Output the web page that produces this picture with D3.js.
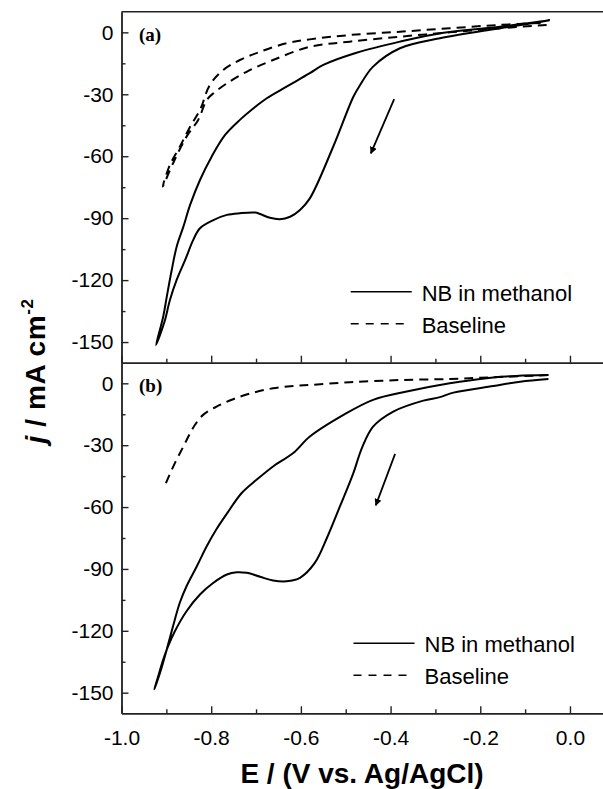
<!DOCTYPE html>
<html>
<head>
<meta charset="utf-8">
<script src="https://cdn.jsdelivr.net/npm/d3@7/dist/d3.min.js"></script>
<style>
  html, body { margin: 0; padding: 0; background: #fff; }
  svg { display: block; }
  text { font-family: "Liberation Sans", Arial, sans-serif; fill: #000; }
</style>
</head>
<body>
<svg id="chart" width="603" height="789"></svg>
<script>
// ---------- data (E in V vs Ag/AgCl, j in mA cm^-2) ----------
const xTicksMajor = [-1.0, -0.8, -0.6, -0.4, -0.2, 0.0];
const xTicksMinor = [-0.9, -0.7, -0.5, -0.3, -0.1];
const yTicksMajor = [-150, -120, -90, -60, -30, 0];
const yTicksMinor = [-135, -105, -75, -45, -15];
const legendLabels = ["NB in methanol", "Baseline"];
const panelLabels = ["(a)", "(b)"];

// panel (a) NB in methanol: cathodic sweep then return sweep
const nbA = [
  [-0.045, 6.0], [-0.052, 5.6], [-0.156, 2.0], [-0.290, -2.9], [-0.379, -7.7], [-0.439, -16.6],
  [-0.468, -25.5], [-0.483, -31.2], [-0.528, -55.4], [-0.580, -80.4], [-0.602, -86.0], [-0.624, -89.3],
  [-0.647, -90.5], [-0.669, -89.8], [-0.691, -88.0], [-0.702, -87.3], [-0.736, -87.6], [-0.765, -88.4],
  [-0.795, -90.9], [-0.825, -94.9], [-0.840, -100.5], [-0.858, -110.2], [-0.877, -119.9], [-0.892, -129.6],
  [-0.903, -139.3], [-0.914, -146.5], [-0.923, -151.4],
  [-0.907, -137.7], [-0.899, -128.0], [-0.888, -115.1], [-0.877, -103.8], [-0.862, -94.1], [-0.847, -83.6],
  [-0.825, -71.5], [-0.799, -60.2], [-0.769, -49.7], [-0.736, -42.4], [-0.700, -35.8], [-0.676, -31.9],
  [-0.632, -26.3], [-0.580, -19.8], [-0.550, -15.8], [-0.476, -9.9], [-0.379, -4.5], [-0.282, -0.2],
  [-0.156, 2.7], [-0.067, 5.2], [-0.045, 6.0]
];
// panel (a) baseline
const baseA = [
  [-0.052, 3.6], [-0.156, 2.0], [-0.268, 0.0], [-0.379, -2.1], [-0.491, -4.5], [-0.580, -7.0],
  [-0.662, -13.4], [-0.721, -19.1], [-0.765, -24.7], [-0.795, -29.5], [-0.810, -32.8], [-0.829, -42.4],
  [-0.855, -50.5], [-0.885, -63.4], [-0.908, -74.7],
  [-0.892, -64.2], [-0.870, -55.4], [-0.847, -45.7], [-0.825, -37.6], [-0.803, -25.5], [-0.773, -18.2],
  [-0.736, -13.4], [-0.691, -9.4], [-0.632, -5.3], [-0.580, -3.4], [-0.491, -1.3], [-0.379, 0.3],
  [-0.268, 2.0], [-0.156, 3.6], [-0.052, 4.7]
];
// panel (b) NB in methanol
const nbB = [
  [-0.048, 2.1], [-0.111, 0.8], [-0.171, -1.3], [-0.260, -4.5], [-0.290, -6.7], [-0.327, -8.4],
  [-0.394, -13.7], [-0.439, -21.0], [-0.464, -31.4], [-0.483, -43.5], [-0.513, -59.7], [-0.542, -75.0],
  [-0.569, -87.1], [-0.602, -94.3], [-0.632, -96.0], [-0.662, -95.6], [-0.691, -93.8], [-0.721, -91.9],
  [-0.743, -91.6], [-0.765, -92.7], [-0.795, -96.7], [-0.825, -102.4], [-0.855, -110.5], [-0.881, -120.2],
  [-0.896, -127.4], [-0.907, -133.9], [-0.918, -141.9], [-0.927, -148.4],
  [-0.914, -140.3], [-0.899, -129.0], [-0.885, -117.7], [-0.870, -106.4], [-0.855, -98.4], [-0.832, -88.7],
  [-0.810, -79.0], [-0.789, -71.0], [-0.765, -63.2], [-0.732, -53.2], [-0.699, -46.8], [-0.662, -40.3],
  [-0.617, -33.8], [-0.580, -25.8], [-0.505, -15.3], [-0.439, -8.0], [-0.364, -4.0], [-0.268, 0.0],
  [-0.186, 2.5], [-0.119, 3.6], [-0.048, 4.0]
];
// panel (b) baseline
const baseB = [
  [-0.901, -48.4], [-0.881, -38.7], [-0.862, -30.6], [-0.847, -24.2], [-0.836, -20.1], [-0.818, -15.3],
  [-0.788, -11.3], [-0.751, -7.7], [-0.706, -4.5], [-0.662, -2.4], [-0.617, -1.3], [-0.580, -0.8],
  [-0.491, 0.5], [-0.379, 1.6], [-0.268, 2.1], [-0.201, 2.7], [-0.048, 4.0]
];
// scan-direction arrows
const arrowA = [[-0.392, -32.3], [-0.444, -58.6]];
const arrowB = [[-0.390, -34.2], [-0.433, -59.2]];

// ---------- layout ----------
const svg = d3.select("#chart");
svg.append("rect").attr("width", 603).attr("height", 789).attr("fill", "#fff");

const x = d3.scaleLinear().domain([-1.0, 0.075]).range([121.5, 603.6]);
const yA = d3.scaleLinear().domain([-160, 10]).range([362.7, 11.7]);
const yB = d3.scaleLinear().domain([-160, 10]).range([713.3, 362.7]);

const defs = svg.append("defs");
defs.append("marker").attr("id", "ah")
  .attr("viewBox", "0 0 10 10").attr("refX", 9).attr("refY", 5)
  .attr("markerWidth", 4).attr("markerHeight", 4).attr("orient", "auto")
  .append("path").attr("d", "M0,0 L10,5 L0,10 Z").attr("fill", "#000");

const axisColor = "#222";
const tickFont = 21;

function drawPanel(y, nb, base, arrow, label, showXLabels, legendPos) {
  const g = svg.append("g");
  const line = d3.line().x(d => x(d[0])).y(d => y(d[1])).curve(d3.curveCatmullRom.alpha(0.5));
  g.append("path").datum(base).attr("d", line).attr("fill", "none")
    .attr("stroke", "#000").attr("stroke-width", 2).attr("stroke-dasharray", "9,6");
  g.append("path").datum(nb).attr("d", line).attr("fill", "none")
    .attr("stroke", "#000").attr("stroke-width", 2);
  g.append("line")
    .attr("x1", x(arrow[0][0])).attr("y1", y(arrow[0][1]))
    .attr("x2", x(arrow[1][0])).attr("y2", y(arrow[1][1]))
    .attr("stroke", "#000").attr("stroke-width", 1.8).attr("marker-end", "url(#ah)");

  // left axis
  const yMajor = d3.axisLeft(y).tickValues(yTicksMajor).tickSizeInner(-7).tickSizeOuter(0)
    .tickPadding(8).tickFormat(d => String(d));
  const ga = g.append("g").attr("transform", `translate(${x.range()[0]},0)`).call(yMajor);
  ga.selectAll("text").style("font-size", tickFont + "px");
  const yMinor = d3.axisLeft(y).tickValues(yTicksMinor).tickSizeInner(-4).tickSizeOuter(0).tickFormat("");
  g.append("g").attr("transform", `translate(${x.range()[0]},0)`).call(yMinor);

  // bottom axis
  const yb = y.range()[0];
  const xMajor = d3.axisBottom(x).tickValues(xTicksMajor).tickSizeInner(-7).tickSizeOuter(0)
    .tickPadding(17).tickFormat(showXLabels ? (d => d.toFixed(1)) : "");
  const gx = g.append("g").attr("transform", `translate(0,${yb})`).call(xMajor);
  gx.selectAll("text").style("font-size", tickFont + "px");
  const xMinor = d3.axisBottom(x).tickValues(xTicksMinor).tickSizeInner(-4).tickSizeOuter(0).tickFormat("");
  g.append("g").attr("transform", `translate(0,${yb})`).call(xMinor);

  g.selectAll(".domain, .tick line").attr("stroke", axisColor).attr("stroke-width", 1.4);

  // panel label
  g.append("text").attr("x", 139).attr("y", y(0) + 9)
    .style("font-family", '"Liberation Serif", "Times New Roman", serif')
    .style("font-weight", "bold").style("font-size", "19px").text(label);

  // legend
  const [lx, ly] = legendPos;
  g.append("line").attr("x1", lx).attr("x2", lx + 61).attr("y1", ly).attr("y2", ly)
    .attr("stroke", "#000").attr("stroke-width", 1.6);
  g.append("text").attr("x", lx + 71).attr("y", ly + 9).style("font-size", "22px").text(legendLabels[0]);
  g.append("line").attr("x1", lx).attr("x2", lx + 56).attr("y1", ly + 32).attr("y2", ly + 32)
    .attr("stroke", "#000").attr("stroke-width", 1.6).attr("stroke-dasharray", "8,7");
  g.append("text").attr("x", lx + 71).attr("y", ly + 41).style("font-size", "22px").text(legendLabels[1]);
}

drawPanel(yA, nbA, baseA, arrowA, panelLabels[0], false, [350.7, 291.7]);
drawPanel(yB, nbB, baseB, arrowB, panelLabels[1], true, [353.5, 643.3]);

// top border of panel (a)
svg.append("line").attr("x1", x.range()[0]).attr("x2", 603).attr("y1", yA.range()[1]).attr("y2", yA.range()[1])
  .attr("stroke", axisColor).attr("stroke-width", 1.4);

// axis titles
svg.append("text").attr("x", 362).attr("y", 783).attr("text-anchor", "middle")
  .style("font-size", "28px").style("font-weight", "bold").text("E / (V vs. Ag/AgCl)");

const yt = svg.append("text").attr("transform", "translate(45,371) rotate(-90)")
  .attr("text-anchor", "middle").style("font-size", "28px").style("font-weight", "bold")
  .style("letter-spacing", "0.6px");
yt.append("tspan").style("font-style", "italic").text("j");
yt.append("tspan").text(" / mA cm");
yt.append("tspan").attr("dy", -12).style("font-size", "17px").text("-2");
</script>
</body>
</html>
